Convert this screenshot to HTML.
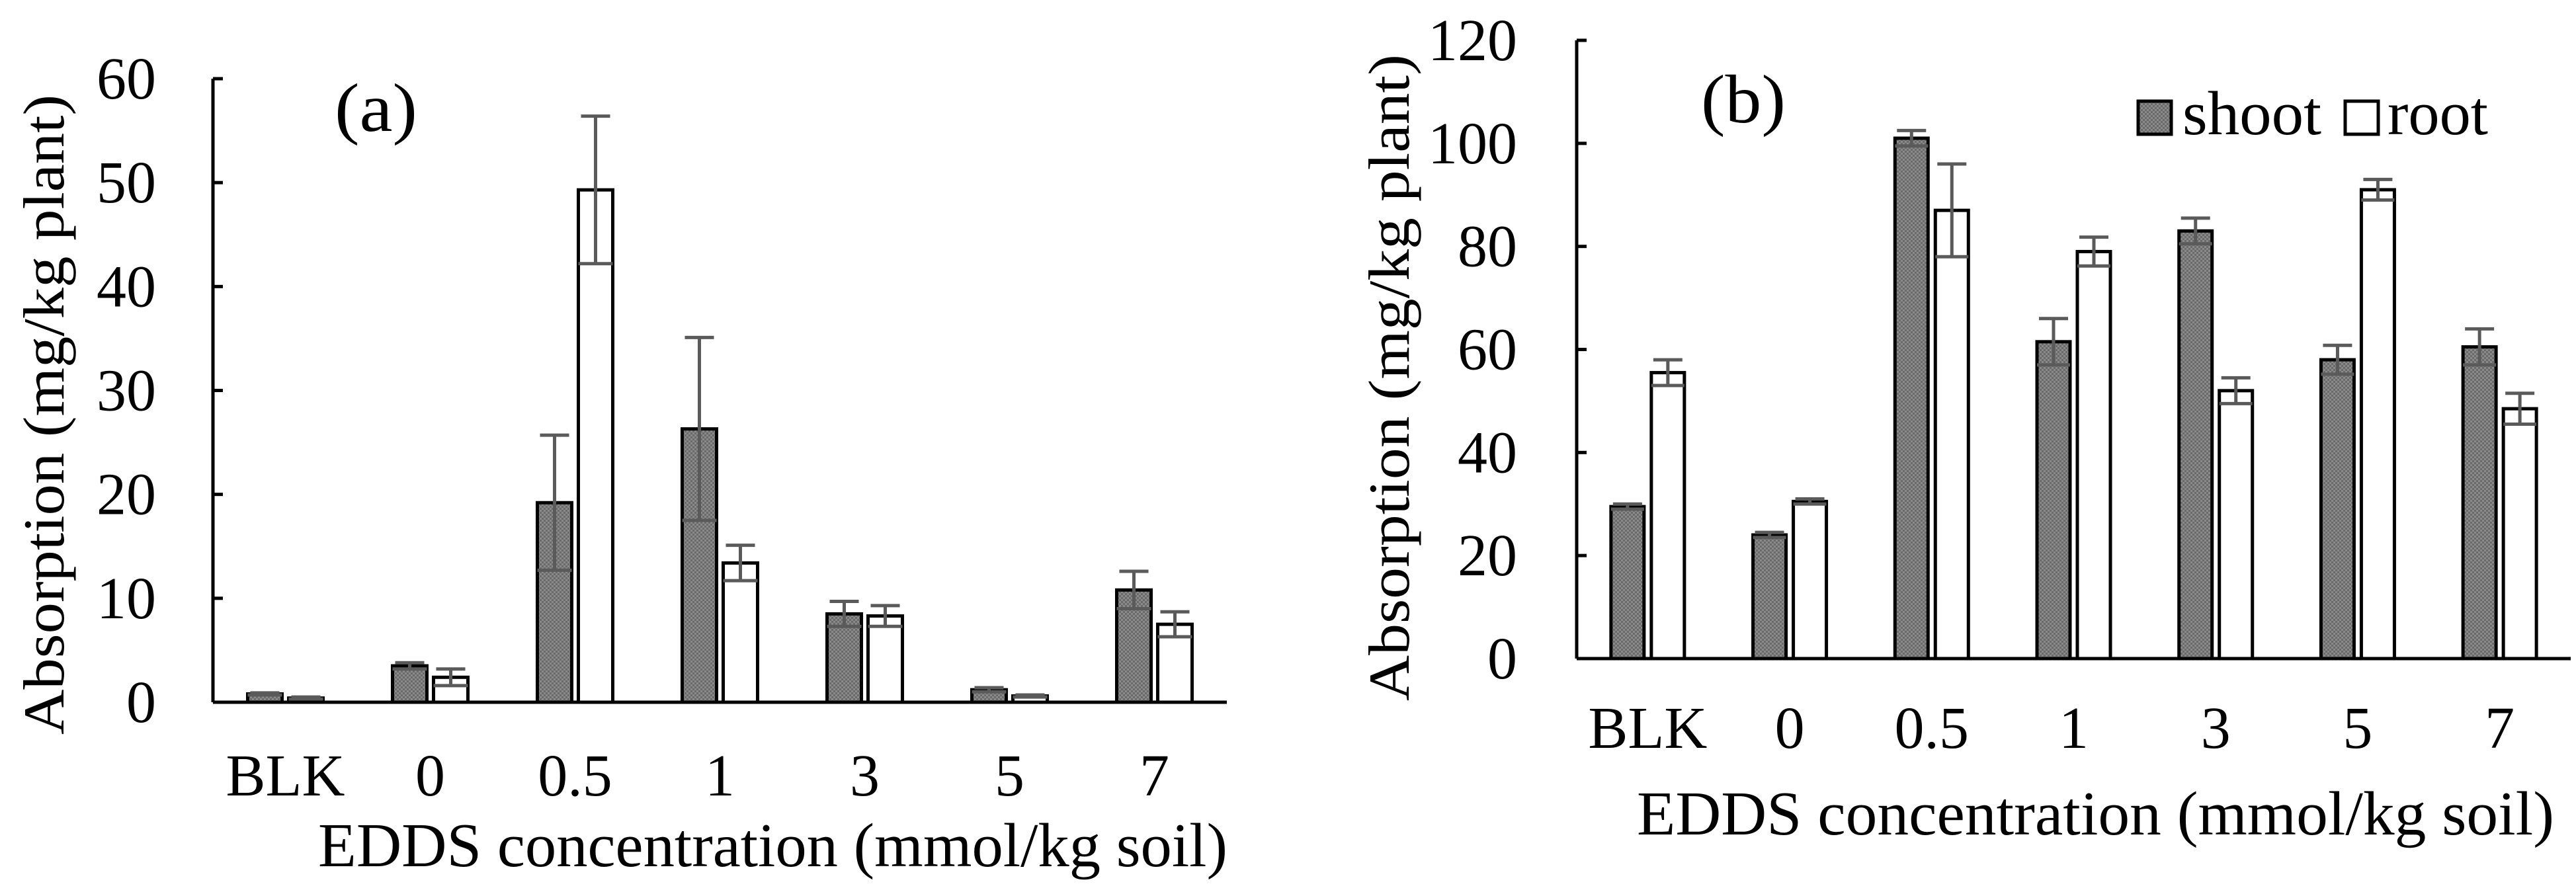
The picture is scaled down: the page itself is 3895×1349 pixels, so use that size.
<!DOCTYPE html>
<html><head><meta charset="utf-8"><style>
html,body{margin:0;padding:0;background:#fff}
svg{display:block}
text{font-family:"Liberation Serif",serif;fill:#000}
</style></head><body>
<svg id="chart" width="3895" height="1349" viewBox="0 0 3895 1349" xmlns="http://www.w3.org/2000/svg">
<defs>
<pattern id="dots" width="6" height="6" patternUnits="userSpaceOnUse">
<rect width="6" height="6" fill="#8a8a8a"/><rect width="3" height="3" fill="#6a6a6a"/><rect x="3" y="3" width="3" height="3" fill="#6a6a6a"/>
</pattern>
</defs>
</svg>
<script>
const categories = ["BLK","0","0.5","1","3","5","7"];
const shootA = [0.8,3.5,19.2,26.3,8.5,1.2,10.8];
const rootA  = [0.4,2.4,49.3,13.4,8.3,0.6,7.5];
const shootErrA = [0.1,0.3,6.5,8.8,1.2,0.2,1.8];
const rootErrA  = [0.1,0.8,7.1,1.7,1.0,0.1,1.2];
const ticksA = [0,10,20,30,40,50,60];
const shootB = [29.5,24,101,61.5,83,58,60.5];
const rootB  = [55.5,30.5,87,79,52,91,48.5];
const shootErrB = [0.5,0.5,1.5,4.5,2.5,2.8,3.5];
const rootErrB  = [2.5,0.5,9,2.8,2.5,2,3];
const ticksB = [0,20,40,60,80,100,120];

const NS="http://www.w3.org/2000/svg";
const svg=document.getElementById('chart');
function mk(tag,attrs,parent,txt){const e=document.createElementNS(NS,tag);for(const k in attrs)e.setAttribute(k,attrs[k]);if(txt!==undefined)e.textContent=txt;(parent||svg).appendChild(e);return e;}

function drawPanel(p){
  const g=mk('g',{});
  
  
  const y=v=>p.y0-(v-0)/(p.max)*(p.y0-p.yTop);
  const band=(p.xEnd-p.x0)/categories.length;
  const xc=i=>p.x0+band*(i+0.5);
  categories.forEach((c,i)=>{
    [[p.shoot[i],p.sErr[i],-1,'url(#dots)','shoot'],[p.root[i],p.rErr[i],1,'#fff','root']].forEach(([v,e,s,fill,nm])=>{
      const x = s<0 ? xc(i)-p.gap/2-p.bw : xc(i)+p.gap/2;
      const r=mk('rect',{x:x,y:y(v),width:p.bw,height:p.y0-y(v),fill:fill,stroke:'#000','stroke-width':5},g);
      
      
      const cx=x+p.bw/2;
      const eb=mk('g',{stroke:'#5a5a5a','stroke-width':5},g);
      
      
      mk('line',{x1:cx,x2:cx,y1:y(v+e),y2:y(Math.max(0,v-e))},eb);
      mk('line',{x1:cx-22,x2:cx+22,y1:y(v+e),y2:y(v+e)},eb);
      mk('line',{x1:x,x2:x+p.bw,y1:y(Math.max(0,v-e)),y2:y(Math.max(0,v-e))},eb);
    });
    const t=mk('text',{x:xc(i),y:p.catY,'font-size':p.fs,'text-anchor':'middle'},g,c);
    
    
  });
  const ya=mk('line',{x1:p.x0,x2:p.x0,y1:p.yTop,y2:p.y0,stroke:'#000','stroke-width':5},g);
  
  
  const xa=mk('line',{x1:p.x0,x2:p.xEnd,y1:p.y0,y2:p.y0,stroke:'#000','stroke-width':5},g);
  
  
  p.ticks.forEach(tv=>{
    mk('line',{x1:p.x0,x2:p.x0+15,y1:y(tv),y2:y(tv),stroke:'#000','stroke-width':5},g);
    const t=mk('text',{x:p.tickX,y:y(tv)+30,'font-size':p.fs,'text-anchor':'end'},g,String(tv));
    
    
  });
}

drawPanel({name:'panel-a',x0:322,xEnd:1855,y0:1062,yTop:119,max:60,bw:52,gap:10,ticks:ticksA,
  shoot:shootA,root:rootA,sErr:shootErrA,rErr:rootErrA,catY:1203,tickX:236,fs:90});
drawPanel({name:'panel-b',x0:2384,xEnd:3887,y0:996,yTop:61,max:120,bw:50,gap:11,ticks:ticksB,
  shoot:shootB,root:rootB,sErr:shootErrB,rErr:rootErrB,catY:1131,tickX:2294,fs:90});
</script>
<script>
(function(){
const svg=document.getElementById('chart');const NS="http://www.w3.org/2000/svg";
function t(a,txt,name){const e=document.createElementNS(NS,'text');for(const k in a)e.setAttribute(k,a[k]);e.textContent=txt;
svg.appendChild(e);return e;}
t({x:506,y:198,'font-size':104,textLength:125,lengthAdjust:'spacingAndGlyphs'},'(a)','panel-a-label');
t({x:2572,y:185,'font-size':104,textLength:128,lengthAdjust:'spacingAndGlyphs'},'(b)','panel-b-label');
t({x:481,y:1310,'font-size':94,textLength:1375,lengthAdjust:'spacingAndGlyphs'},'EDDS concentration (mmol/kg soil)','x-axis-title-a');
t({x:2475,y:1262,'font-size':94,textLength:1387,lengthAdjust:'spacingAndGlyphs'},'EDDS concentration (mmol/kg soil)','x-axis-title-b');
t({x:0,y:0,'font-size':88,textLength:968,lengthAdjust:'spacingAndGlyphs',transform:'translate(96,1111) rotate(-90)'},'Absorption (mg/kg plant)','y-axis-title-a');
t({x:0,y:0,'font-size':88,textLength:978,lengthAdjust:'spacingAndGlyphs',transform:'translate(2130,1060) rotate(-90)'},'Absorption (mg/kg plant)','y-axis-title-b');
const lg=document.createElementNS(NS,'g');svg.appendChild(lg);
function r(a,name){const e=document.createElementNS(NS,'rect');for(const k in a)e.setAttribute(k,a[k]);lg.appendChild(e);}
r({x:3233,y:153,width:50,height:50,fill:'url(#dots)',stroke:'#000','stroke-width':5},'legend-swatch-shoot');
r({x:3546,y:153,width:50,height:50,fill:'#fff',stroke:'#000','stroke-width':5},'legend-swatch-root');
t({x:3300,y:203,'font-size':94,textLength:210,lengthAdjust:'spacingAndGlyphs'},'shoot','legend-label-shoot');
t({x:3610,y:203,'font-size':94,textLength:152,lengthAdjust:'spacingAndGlyphs'},'root','legend-label-root');
})();
</script>
</body></html>
